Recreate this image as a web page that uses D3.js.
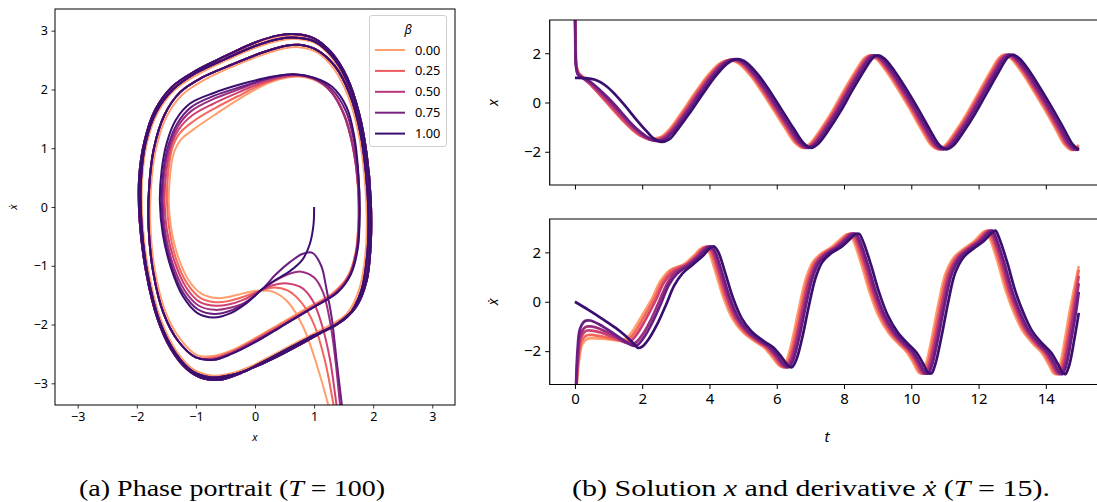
<!DOCTYPE html>
<html><head><meta charset="utf-8">
<script src="https://cdn.jsdelivr.net/npm/d3@7"></script>
<style>body{margin:0;background:#fff}svg{display:block}</style>
</head><body>
<svg id="c" width="1097" height="502"></svg>
<script>
// ---------------- data ----------------
const betas = [0, 0.2, 0.4, 0.6, 0.8, 1.0];
const legendBetas = [0, 0.25, 0.5, 0.75, 1.0];
const legendLabels = ["0.00", "0.25", "0.50", "0.75", "1.00"];
const phaseTicks = [-3, -2, -1, 0, 1, 2, 3];
const timeTicks = [0, 2, 4, 6, 8, 10, 12, 14];
const valueTicks = [-2, 0, 2];

// phase portrait: transient + first loop, per beta
const phaseStart0 = [[1.45,-4.3],[1.24,-3.37],[1.05,-2.7],[0.82,-2.05],[0.56,-1.62],[0.3,-1.44],[0.08,-1.42],[-0.2,-1.47],[-0.45,-1.53],[-0.65,-1.55],[-0.9,-1.48],[-1.12,-1.25],[-1.3,-0.85],[-1.42,-0.35],[-1.46,0.1],[-1.44,0.5],[-1.38,0.9],[-1.25,1.15],[-1.04,1.32],[-0.65,1.59],[-0.3,1.82],[0.1,2.05],[0.45,2.18],[0.75,2.22],[1.05,2.14],[1.32,1.92],[1.53,1.5],[1.67,0.95],[1.74,0.35],[1.75,-0.25],[1.7,-0.78],[1.57,-1.18],[1.33,-1.45],[0.95,-1.68],[0.45,-1.97],[-0.05,-2.26],[-0.4,-2.44],[-0.68,-2.53]];
const phaseStart1 = [[1.5,-4.3],[1.33,-3.37],[1.18,-2.6],[1.0,-2.0],[0.78,-1.62],[0.55,-1.42],[0.32,-1.37],[0.1,-1.42],[-0.2,-1.53],[-0.45,-1.6],[-0.66,-1.62],[-0.92,-1.55],[-1.15,-1.3],[-1.33,-0.9],[-1.45,-0.38],[-1.49,0.1],[-1.47,0.58],[-1.4,1.0],[-1.27,1.26],[-1.04,1.46],[-0.68,1.68],[-0.3,1.88],[0.1,2.08],[0.45,2.2],[0.73,2.23],[1.03,2.16],[1.3,1.95],[1.52,1.55],[1.66,1.0],[1.74,0.38],[1.75,-0.2],[1.71,-0.75],[1.58,-1.17],[1.35,-1.45],[0.97,-1.69],[0.47,-1.98],[-0.03,-2.27],[-0.4,-2.46],[-0.69,-2.56]];
const phaseStart2 = [[1.52,-4.3],[1.38,-3.37],[1.27,-2.6],[1.13,-2.0],[0.98,-1.6],[0.8,-1.38],[0.55,-1.3],[0.3,-1.33],[0.1,-1.42],[-0.2,-1.58],[-0.45,-1.66],[-0.67,-1.68],[-0.93,-1.62],[-1.17,-1.36],[-1.36,-0.93],[-1.49,-0.4],[-1.53,0.1],[-1.5,0.6],[-1.42,1.03],[-1.29,1.32],[-1.06,1.56],[-0.7,1.76],[-0.28,1.95],[0.1,2.11],[0.45,2.21],[0.7,2.24],[1.02,2.17],[1.29,1.96],[1.51,1.57],[1.66,1.03],[1.74,0.4],[1.76,-0.18],[1.72,-0.73],[1.6,-1.16],[1.37,-1.45],[0.98,-1.7],[0.48,-2.0],[-0.02,-2.28],[-0.4,-2.48],[-0.7,-2.58]];
const phaseStart3 = [[1.55,-4.3],[1.44,-3.37],[1.36,-2.6],[1.27,-1.95],[1.15,-1.45],[1.0,-1.2],[0.78,-1.1],[0.55,-1.15],[0.3,-1.28],[0.1,-1.42],[-0.18,-1.63],[-0.44,-1.72],[-0.68,-1.75],[-0.95,-1.68],[-1.19,-1.42],[-1.39,-0.97],[-1.52,-0.42],[-1.56,0.1],[-1.53,0.61],[-1.44,1.05],[-1.3,1.38],[-1.07,1.64],[-0.7,1.84],[-0.25,2.01],[0.15,2.16],[0.45,2.23],[0.68,2.25],[1.01,2.18],[1.28,1.97],[1.5,1.58],[1.65,1.05],[1.74,0.42],[1.76,-0.17],[1.72,-0.72],[1.61,-1.15],[1.38,-1.45],[0.99,-1.7],[0.49,-2.0],[-0.01,-2.29],[-0.4,-2.49],[-0.7,-2.59]];
const phaseStart4 = [[1.58,-4.3],[1.47,-3.37],[1.38,-2.6],[1.3,-1.9],[1.21,-1.4],[1.12,-1.0],[0.97,-0.78],[0.8,-0.8],[0.6,-0.93],[0.35,-1.15],[0.12,-1.4],[-0.15,-1.62],[-0.43,-1.77],[-0.69,-1.82],[-0.97,-1.74],[-1.21,-1.47],[-1.41,-1.0],[-1.54,-0.44],[-1.58,0.1],[-1.55,0.62],[-1.46,1.07],[-1.31,1.43],[-1.08,1.7],[-0.7,1.89],[-0.22,2.05],[0.2,2.18],[0.45,2.24],[0.66,2.26],[1.0,2.19],[1.29,2.01],[1.53,1.65],[1.67,1.15],[1.75,0.5],[1.77,-0.12],[1.73,-0.71],[1.61,-1.15],[1.39,-1.45],[1.0,-1.7],[0.5,-2.0],[0.0,-2.3],[-0.4,-2.5],[-0.7,-2.6]];
const phaseStart5 = [[1.0,0.0],[0.99,-0.3],[0.93,-0.62],[0.8,-0.9],[0.58,-1.1],[0.33,-1.25],[0.12,-1.4],[-0.15,-1.64],[-0.42,-1.81],[-0.7,-1.88],[-0.98,-1.8],[-1.22,-1.52],[-1.42,-1.04],[-1.56,-0.46],[-1.61,0.1],[-1.58,0.62],[-1.49,1.1],[-1.34,1.48],[-1.1,1.76],[-0.7,1.94],[-0.2,2.1],[0.3,2.22],[0.65,2.26],[1.0,2.2],[1.3,2.05],[1.55,1.7],[1.68,1.2],[1.75,0.55],[1.77,-0.1],[1.74,-0.7],[1.62,-1.15],[1.4,-1.45],[1.0,-1.7],[0.5,-2.0],[0.0,-2.3],[-0.4,-2.5],[-0.7,-2.6]];

// second loop, third loop and limit cycle (light = beta 0, dark = the rest)
const loop2Light = [[-0.98,-2.52],[-1.27,-2.24],[-1.52,-1.77],[-1.69,-1.1],[-1.77,-0.35],[-1.76,0.33],[-1.68,0.97],[-1.5,1.53],[-1.24,1.9],[-0.88,2.15],[-0.4,2.38],[0.1,2.58],[0.5,2.7],[0.75,2.72],[1.05,2.63],[1.33,2.36],[1.57,1.9],[1.75,1.26],[1.85,0.55],[1.89,-0.15],[1.87,-0.78],[1.77,-1.38],[1.55,-1.82],[1.1,-2.1],[0.5,-2.44],[0.0,-2.68],[-0.4,-2.83],[-0.7,-2.87]];
const loop3Light = [[-1.03,-2.77],[-1.33,-2.45],[-1.6,-1.9],[-1.8,-1.1],[-1.9,-0.3],[-1.91,0.45],[-1.83,1.08],[-1.65,1.6],[-1.37,1.98],[-0.98,2.25],[-0.5,2.49],[0.0,2.71],[0.4,2.83],[0.7,2.86],[1.0,2.8],[1.29,2.55],[1.53,2.14],[1.73,1.56],[1.86,0.87],[1.93,0.1],[1.93,-0.6],[1.86,-1.23],[1.68,-1.68],[1.38,-1.96],[0.9,-2.2],[0.3,-2.52],[-0.2,-2.77],[-0.6,-2.9],[-0.9,-2.87]];
const cycleLight = [[-1.13,-2.73],[-1.4,-2.4],[-1.63,-1.88],[-1.82,-1.1],[-1.93,-0.25],[-1.94,0.5],[-1.85,1.1],[-1.67,1.63],[-1.39,2.02],[-1.0,2.3],[-0.5,2.55],[0.0,2.78],[0.4,2.9],[0.7,2.92],[1.0,2.85],[1.29,2.6],[1.55,2.18],[1.74,1.59],[1.87,0.9],[1.94,0.1],[1.94,-0.6],[1.87,-1.24],[1.69,-1.69],[1.39,-1.97],[0.9,-2.22],[0.3,-2.54],[-0.2,-2.79],[-0.6,-2.92],[-0.9,-2.89]];
const loop2Dark = [[-1.0,-2.56],[-1.3,-2.28],[-1.55,-1.8],[-1.72,-1.12],[-1.8,-0.35],[-1.79,0.35],[-1.71,1.0],[-1.53,1.57],[-1.27,1.95],[-0.9,2.2],[-0.4,2.42],[0.1,2.62],[0.5,2.74],[0.75,2.76],[1.05,2.67],[1.35,2.4],[1.6,1.93],[1.78,1.28],[1.88,0.55],[1.92,-0.15],[1.9,-0.8],[1.8,-1.42],[1.57,-1.86],[1.1,-2.15],[0.5,-2.48],[0.0,-2.72],[-0.4,-2.86],[-0.72,-2.9]];
const loop3Dark = [[-1.05,-2.8],[-1.35,-2.48],[-1.62,-1.93],[-1.82,-1.13],[-1.92,-0.3],[-1.93,0.45],[-1.85,1.1],[-1.67,1.62],[-1.39,2.0],[-1.0,2.28],[-0.5,2.52],[0.0,2.74],[0.4,2.86],[0.7,2.88],[1.0,2.82],[1.3,2.57],[1.55,2.16],[1.75,1.58],[1.88,0.88],[1.95,0.1],[1.95,-0.6],[1.88,-1.25],[1.7,-1.7],[1.4,-1.98],[0.9,-2.23],[0.3,-2.55],[-0.2,-2.8],[-0.6,-2.93],[-0.9,-2.9]];
const cycleDark = [[-1.15,-2.76],[-1.42,-2.42],[-1.65,-1.9],[-1.84,-1.12],[-1.95,-0.25],[-1.96,0.5],[-1.87,1.12],[-1.69,1.65],[-1.41,2.04],[-1.0,2.32],[-0.5,2.57],[0.0,2.8],[0.4,2.92],[0.7,2.94],[1.0,2.87],[1.3,2.62],[1.56,2.2],[1.76,1.6],[1.89,0.9],[1.96,0.1],[1.96,-0.6],[1.89,-1.25],[1.71,-1.7],[1.4,-1.99],[0.9,-2.24],[0.3,-2.56],[-0.2,-2.81],[-0.6,-2.94],[-0.9,-2.91]];

// x(t), per beta
const xT0 = [[0,4.5],[0.025,2.2],[0.05,1.45],[0.12,1.2],[0.3,0.98],[0.6,0.55],[0.9,0.1],[1.2,-0.35],[1.5,-0.8],[1.8,-1.15],[2.1,-1.38],[2.34,-1.46],[2.55,-1.4],[2.8,-1.1],[3.15,-0.45],[3.55,0.35],[3.95,1.1],[4.3,1.58],[4.6,1.72],[4.85,1.6],[5.2,1.12],[5.55,0.45],[5.9,-0.3],[6.25,-1.05],[6.55,-1.65],[6.77,-1.84],[7.0,-1.65],[7.3,-1.1],[7.65,-0.35],[8.0,0.5],[8.35,1.3],[8.6,1.8],[8.75,1.9],[8.95,1.78],[9.25,1.28],[9.6,0.55],[9.95,-0.25],[10.3,-1.1],[10.6,-1.75],[10.8,-1.9],[11.0,-1.75],[11.3,-1.2],[11.65,-0.45],[12.0,0.4],[12.35,1.25],[12.6,1.8],[12.75,1.93],[12.95,1.8],[13.25,1.3],[13.6,0.55],[13.95,-0.25],[14.3,-1.1],[14.55,-1.7],[14.75,-1.92],[14.98,-1.72]];
const xT1 = [[0,4.5],[0.02,2.3],[0.045,1.48],[0.11,1.19],[0.25,1.0],[0.5,0.68],[0.8,0.22],[1.1,-0.25],[1.4,-0.7],[1.7,-1.1],[1.98,-1.37],[2.2,-1.47],[2.38,-1.49],[2.6,-1.4],[2.84,-1.1],[3.19,-0.45],[3.59,0.36],[3.99,1.1],[4.34,1.58],[4.64,1.73],[4.89,1.61],[5.24,1.12],[5.59,0.45],[5.94,-0.3],[6.29,-1.05],[6.59,-1.65],[6.81,-1.84],[7.04,-1.65],[7.34,-1.1],[7.69,-0.35],[8.04,0.5],[8.39,1.3],[8.64,1.8],[8.79,1.9],[8.99,1.78],[9.29,1.28],[9.64,0.55],[9.99,-0.25],[10.34,-1.1],[10.64,-1.75],[10.84,-1.9],[11.04,-1.75],[11.34,-1.2],[11.69,-0.45],[12.04,0.4],[12.39,1.25],[12.64,1.8],[12.79,1.93],[12.99,1.8],[13.29,1.3],[13.64,0.55],[13.99,-0.25],[14.34,-1.1],[14.59,-1.7],[14.79,-1.92],[14.98,-1.77]];
const xT2 = [[0,4.5],[0.02,2.3],[0.04,1.5],[0.1,1.18],[0.22,1.02],[0.45,0.75],[0.75,0.33],[1.05,-0.1],[1.35,-0.55],[1.65,-0.98],[1.95,-1.32],[2.2,-1.5],[2.4,-1.53],[2.62,-1.42],[2.88,-1.1],[3.23,-0.45],[3.63,0.35],[4.03,1.1],[4.38,1.6],[4.68,1.74],[4.93,1.62],[5.28,1.12],[5.63,0.45],[5.98,-0.3],[6.33,-1.05],[6.63,-1.65],[6.85,-1.84],[7.08,-1.65],[7.38,-1.1],[7.73,-0.35],[8.08,0.5],[8.43,1.3],[8.68,1.8],[8.83,1.91],[9.03,1.78],[9.33,1.28],[9.68,0.55],[10.03,-0.25],[10.38,-1.1],[10.68,-1.75],[10.88,-1.9],[11.08,-1.75],[11.38,-1.2],[11.73,-0.45],[12.08,0.4],[12.43,1.25],[12.68,1.8],[12.83,1.94],[13.03,1.8],[13.33,1.3],[13.68,0.55],[14.03,-0.25],[14.38,-1.1],[14.63,-1.7],[14.83,-1.92],[14.98,-1.82]];
const xT3 = [[0,4.5],[0.015,2.4],[0.035,1.5],[0.09,1.18],[0.2,1.03],[0.45,0.8],[0.75,0.42],[1.05,0.0],[1.35,-0.45],[1.65,-0.9],[1.95,-1.27],[2.2,-1.48],[2.42,-1.55],[2.65,-1.45],[2.92,-1.1],[3.27,-0.45],[3.67,0.35],[4.07,1.1],[4.42,1.6],[4.72,1.75],[4.97,1.62],[5.32,1.12],[5.67,0.45],[6.02,-0.3],[6.37,-1.05],[6.67,-1.65],[6.89,-1.84],[7.12,-1.65],[7.42,-1.1],[7.77,-0.35],[8.12,0.5],[8.47,1.3],[8.72,1.8],[8.87,1.91],[9.07,1.78],[9.37,1.28],[9.72,0.55],[10.07,-0.25],[10.42,-1.1],[10.72,-1.75],[10.92,-1.9],[11.12,-1.75],[11.42,-1.2],[11.77,-0.45],[12.12,0.4],[12.47,1.25],[12.72,1.8],[12.87,1.94],[13.07,1.8],[13.37,1.3],[13.72,0.55],[14.07,-0.25],[14.42,-1.1],[14.67,-1.7],[14.87,-1.92],[14.98,-1.86]];
const xT4 = [[0,4.5],[0.01,2.5],[0.03,1.5],[0.08,1.15],[0.2,1.02],[0.45,0.85],[0.75,0.5],[1.05,0.1],[1.35,-0.35],[1.65,-0.82],[1.95,-1.2],[2.2,-1.45],[2.45,-1.57],[2.7,-1.48],[2.97,-1.1],[3.32,-0.45],[3.72,0.35],[4.12,1.1],[4.47,1.6],[4.77,1.76],[5.02,1.62],[5.37,1.12],[5.72,0.45],[6.07,-0.3],[6.42,-1.05],[6.72,-1.65],[6.94,-1.84],[7.17,-1.65],[7.47,-1.1],[7.82,-0.35],[8.17,0.5],[8.52,1.3],[8.77,1.8],[8.92,1.91],[9.12,1.78],[9.42,1.28],[9.77,0.55],[10.12,-0.25],[10.47,-1.1],[10.77,-1.75],[10.97,-1.9],[11.17,-1.75],[11.47,-1.2],[11.82,-0.45],[12.17,0.4],[12.52,1.25],[12.77,1.8],[12.92,1.94],[13.12,1.8],[13.42,1.3],[13.77,0.55],[14.12,-0.25],[14.47,-1.1],[14.72,-1.7],[14.92,-1.92],[14.98,-1.9]];
const xT5 = [[0,1.0],[0.3,0.99],[0.6,0.92],[0.9,0.7],[1.2,0.32],[1.5,-0.15],[1.8,-0.65],[2.1,-1.12],[2.35,-1.47],[2.57,-1.6],[2.8,-1.5],[3.05,-1.1],[3.4,-0.45],[3.8,0.35],[4.2,1.1],[4.55,1.6],[4.85,1.76],[5.1,1.62],[5.45,1.12],[5.8,0.45],[6.15,-0.3],[6.5,-1.05],[6.8,-1.65],[7.02,-1.84],[7.25,-1.65],[7.55,-1.1],[7.9,-0.35],[8.25,0.5],[8.6,1.3],[8.85,1.8],[9.0,1.91],[9.2,1.78],[9.5,1.28],[9.85,0.55],[10.2,-0.25],[10.55,-1.1],[10.85,-1.75],[11.05,-1.9],[11.25,-1.75],[11.55,-1.2],[11.9,-0.45],[12.25,0.4],[12.6,1.25],[12.85,1.8],[13.0,1.94],[13.2,1.8],[13.5,1.3],[13.85,0.55],[14.2,-0.25],[14.55,-1.1],[14.8,-1.7],[14.98,-1.92]];

// xdot(t), per beta
const vT0 = [[0,-6],[0.05,-3.5],[0.12,-2.4],[0.22,-1.72],[0.38,-1.5],[0.6,-1.48],[0.9,-1.5],[1.2,-1.55],[1.4,-1.56],[1.55,-1.45],[1.75,-1.12],[2.0,-0.55],[2.3,0.15],[2.55,0.85],[2.85,1.3],[3.22,1.5],[3.52,1.85],[3.72,2.13],[3.84,2.21],[3.97,2.05],[4.17,1.25],[4.42,0.15],[4.67,-0.65],[4.97,-1.2],[5.32,-1.58],[5.62,-1.85],[5.87,-2.25],[6.07,-2.58],[6.17,-2.63],[6.3,-2.35],[6.47,-1.5],[6.67,-0.2],[6.87,0.95],[7.07,1.6],[7.32,1.95],[7.62,2.2],[7.87,2.5],[8.07,2.72],[8.17,2.73],[8.3,2.4],[8.52,1.5],[8.77,0.35],[9.02,-0.55],[9.32,-1.25],[9.62,-1.7],[9.87,-2.05],[10.07,-2.5],[10.22,-2.86],[10.32,-2.89],[10.44,-2.5],[10.62,-1.4],[10.82,0.0],[11.02,1.15],[11.27,1.8],[11.57,2.15],[11.87,2.45],[12.12,2.8],[12.22,2.87],[12.34,2.55],[12.57,1.6],[12.82,0.4],[13.07,-0.5],[13.32,-1.2],[13.62,-1.7],[13.87,-2.05],[14.07,-2.5],[14.22,-2.88],[14.3,-2.93],[14.42,-2.55],[14.57,-1.5],[14.72,-0.3],[14.98,1.45]];
const vT1 = [[0,-6],[0.045,-3.5],[0.11,-2.3],[0.2,-1.6],[0.35,-1.36],[0.55,-1.35],[0.85,-1.42],[1.15,-1.52],[1.4,-1.6],[1.5,-1.6],[1.62,-1.5],[1.8,-1.2],[2.05,-0.62],[2.35,0.12],[2.6,0.82],[2.9,1.3],[3.27,1.5],[3.57,1.85],[3.77,2.14],[3.89,2.22],[4.02,2.05],[4.22,1.25],[4.47,0.15],[4.72,-0.65],[5.02,-1.2],[5.37,-1.58],[5.67,-1.85],[5.92,-2.25],[6.12,-2.6],[6.22,-2.65],[6.35,-2.35],[6.52,-1.5],[6.72,-0.2],[6.92,0.95],[7.12,1.6],[7.37,1.95],[7.67,2.2],[7.92,2.5],[8.12,2.73],[8.22,2.74],[8.35,2.4],[8.57,1.5],[8.82,0.35],[9.07,-0.55],[9.37,-1.25],[9.67,-1.7],[9.92,-2.05],[10.12,-2.5],[10.27,-2.87],[10.37,-2.9],[10.49,-2.5],[10.67,-1.4],[10.87,0.0],[11.07,1.15],[11.32,1.8],[11.62,2.15],[11.92,2.45],[12.17,2.8],[12.27,2.88],[12.39,2.55],[12.62,1.6],[12.87,0.4],[13.12,-0.5],[13.37,-1.2],[13.67,-1.7],[13.92,-2.05],[14.12,-2.5],[14.27,-2.88],[14.35,-2.93],[14.47,-2.55],[14.62,-1.5],[14.77,-0.3],[14.98,1.3]];
const vT2 = [[0,-6],[0.04,-3.5],[0.1,-2.2],[0.18,-1.45],[0.33,-1.18],[0.5,-1.17],[0.8,-1.26],[1.1,-1.42],[1.35,-1.56],[1.52,-1.65],[1.65,-1.6],[1.85,-1.3],[2.1,-0.72],[2.4,0.05],[2.65,0.78],[2.95,1.25],[3.32,1.5],[3.62,1.85],[3.82,2.15],[3.94,2.23],[4.07,2.05],[4.27,1.25],[4.52,0.15],[4.77,-0.65],[5.07,-1.2],[5.42,-1.58],[5.72,-1.85],[5.97,-2.25],[6.17,-2.6],[6.27,-2.65],[6.4,-2.35],[6.57,-1.5],[6.77,-0.2],[6.97,0.95],[7.17,1.6],[7.42,1.95],[7.72,2.2],[7.97,2.5],[8.17,2.74],[8.27,2.75],[8.4,2.4],[8.62,1.5],[8.87,0.35],[9.12,-0.55],[9.42,-1.25],[9.72,-1.7],[9.97,-2.05],[10.17,-2.5],[10.32,-2.87],[10.42,-2.9],[10.54,-2.5],[10.72,-1.4],[10.92,0.0],[11.12,1.15],[11.37,1.8],[11.67,2.15],[11.97,2.45],[12.22,2.8],[12.32,2.88],[12.44,2.55],[12.67,1.6],[12.92,0.4],[13.17,-0.5],[13.42,-1.2],[13.72,-1.7],[13.97,-2.05],[14.17,-2.5],[14.32,-2.88],[14.4,-2.93],[14.52,-2.55],[14.67,-1.5],[14.82,-0.3],[14.98,1.05]];
const vT3 = [[0,-6],[0.035,-3.5],[0.09,-2.1],[0.17,-1.3],[0.32,-1.02],[0.47,-1.0],[0.75,-1.1],[1.05,-1.3],[1.3,-1.5],[1.52,-1.66],[1.66,-1.72],[1.8,-1.66],[2.0,-1.35],[2.25,-0.75],[2.5,0.0],[2.75,0.75],[3.0,1.2],[3.36,1.5],[3.66,1.85],[3.86,2.15],[3.98,2.23],[4.11,2.05],[4.31,1.25],[4.56,0.15],[4.81,-0.65],[5.11,-1.2],[5.46,-1.58],[5.76,-1.85],[6.01,-2.25],[6.21,-2.6],[6.31,-2.65],[6.44,-2.35],[6.61,-1.5],[6.81,-0.2],[7.01,0.95],[7.21,1.6],[7.46,1.95],[7.76,2.2],[8.01,2.5],[8.21,2.74],[8.31,2.75],[8.44,2.4],[8.66,1.5],[8.91,0.35],[9.16,-0.55],[9.46,-1.25],[9.76,-1.7],[10.01,-2.05],[10.21,-2.5],[10.36,-2.87],[10.46,-2.9],[10.58,-2.5],[10.76,-1.4],[10.96,0.0],[11.16,1.15],[11.41,1.8],[11.71,2.15],[12.01,2.45],[12.26,2.8],[12.36,2.88],[12.48,2.55],[12.71,1.6],[12.96,0.4],[13.21,-0.5],[13.46,-1.2],[13.76,-1.7],[14.01,-2.05],[14.21,-2.5],[14.36,-2.88],[14.44,-2.93],[14.56,-2.55],[14.71,-1.5],[14.86,-0.3],[14.98,0.75]];
const vT4 = [[0,-6],[0.03,-3.5],[0.08,-1.9],[0.15,-1.1],[0.3,-0.78],[0.45,-0.76],[0.7,-0.9],[1.0,-1.15],[1.3,-1.42],[1.55,-1.65],[1.72,-1.78],[1.85,-1.76],[2.05,-1.45],[2.3,-0.85],[2.55,-0.1],[2.8,0.7],[3.05,1.15],[3.41,1.5],[3.71,1.85],[3.91,2.15],[4.03,2.24],[4.16,2.05],[4.36,1.25],[4.61,0.15],[4.86,-0.65],[5.16,-1.2],[5.51,-1.58],[5.81,-1.85],[6.06,-2.25],[6.26,-2.6],[6.36,-2.65],[6.49,-2.35],[6.66,-1.5],[6.86,-0.2],[7.06,0.95],[7.26,1.6],[7.51,1.95],[7.81,2.2],[8.06,2.5],[8.26,2.74],[8.36,2.75],[8.49,2.4],[8.71,1.5],[8.96,0.35],[9.21,-0.55],[9.51,-1.25],[9.81,-1.7],[10.06,-2.05],[10.26,-2.5],[10.41,-2.87],[10.51,-2.9],[10.63,-2.5],[10.81,-1.4],[11.01,0.0],[11.21,1.15],[11.46,1.8],[11.76,2.15],[12.06,2.45],[12.31,2.8],[12.41,2.88],[12.53,2.55],[12.76,1.6],[13.01,0.4],[13.26,-0.5],[13.51,-1.2],[13.81,-1.7],[14.06,-2.05],[14.26,-2.5],[14.41,-2.88],[14.49,-2.93],[14.61,-2.55],[14.76,-1.5],[14.91,-0.3],[14.98,0.4]];
const vT5 = [[0,0],[0.4,-0.33],[0.8,-0.68],[1.2,-1.05],[1.5,-1.38],[1.75,-1.7],[1.88,-1.87],[2.0,-1.82],[2.2,-1.5],[2.45,-0.9],[2.7,-0.15],[2.95,0.65],[3.2,1.15],[3.5,1.5],[3.8,1.85],[4.0,2.15],[4.12,2.24],[4.25,2.05],[4.45,1.25],[4.7,0.15],[4.95,-0.65],[5.25,-1.2],[5.6,-1.58],[5.9,-1.85],[6.15,-2.25],[6.35,-2.6],[6.45,-2.65],[6.58,-2.35],[6.75,-1.5],[6.95,-0.2],[7.15,0.95],[7.35,1.6],[7.6,1.95],[7.9,2.2],[8.15,2.5],[8.35,2.74],[8.45,2.75],[8.58,2.4],[8.8,1.5],[9.05,0.35],[9.3,-0.55],[9.6,-1.25],[9.9,-1.7],[10.15,-2.05],[10.35,-2.5],[10.5,-2.87],[10.6,-2.9],[10.72,-2.5],[10.9,-1.4],[11.1,0.0],[11.3,1.15],[11.55,1.8],[11.85,2.15],[12.15,2.45],[12.4,2.8],[12.5,2.88],[12.62,2.55],[12.85,1.6],[13.1,0.4],[13.35,-0.5],[13.6,-1.2],[13.9,-1.7],[14.15,-2.05],[14.35,-2.5],[14.5,-2.88],[14.58,-2.93],[14.7,-2.55],[14.85,-1.5],[14.98,-0.45]];

// ---------------- assembly ----------------
const phaseStarts = [phaseStart0, phaseStart1, phaseStart2, phaseStart3, phaseStart4, phaseStart5];
const xSeries = [xT0, xT1, xT2, xT3, xT4, xT5];
const vSeries = [vT0, vT1, vT2, vT3, vT4, vT5];
const phaseSeries = phaseStarts.map((s, i) => {
  const light = i === 0;
  const l2 = light ? loop2Light : loop2Dark, l3 = light ? loop3Light : loop3Dark, lc = light ? cycleLight : cycleDark;
  return s.concat(l2, l3, lc, lc, [lc[0]]);
});

const color = d3.scaleSequential(b => d3.interpolateMagma(0.8 - 0.6 * b)).domain([0, 1]);
const svg = d3.select("#c");
const FONT = "'Noto Sans', 'DejaVu Sans', sans-serif";
const curve = d3.curveCatmullRom.alpha(0.5);
const minus = d => d3.format("")(d).replace("-", "\u2212");

function addClip(id, x0, y0, w, h) {
  svg.append("clipPath").attr("id", id).append("rect").attr("x", x0).attr("y", y0).attr("width", w).attr("height", h);
}

// ---------------- panel (a): phase portrait ----------------
{
  const L = 55, R = 455, T = 9, B = 405;
  const xs = d3.scaleLinear().domain([-3.384, 3.384]).range([L, R]);
  const ys = d3.scaleLinear().domain([-3.369, 3.369]).range([B, T]);
  addClip("clipA", L, T, R - L, B - T);
  const g = svg.append("g").attr("clip-path", "url(#clipA)");
  const line = d3.line().x(d => xs(d[0])).y(d => ys(d[1])).curve(curve);
  phaseSeries.forEach((s, i) => {
    g.append("path").attr("d", line(s)).attr("fill", "none")
      .attr("stroke", color(betas[i])).attr("stroke-width", 2).attr("stroke-linejoin", "round");
  });
  const ax = svg.append("g").attr("transform", `translate(0,${B})`)
    .call(d3.axisBottom(xs).tickValues(phaseTicks).tickSize(3.5).tickPadding(3.5).tickFormat(minus));
  const ay = svg.append("g").attr("transform", `translate(${L},0)`)
    .call(d3.axisLeft(ys).tickValues(phaseTicks).tickSize(3.5).tickPadding(3.5).tickFormat(minus));
  [ax, ay].forEach(a => {
    a.select(".domain").remove();
    a.selectAll("text").attr("font-family", FONT).attr("font-size", 12.5).attr("fill", "#000");
    a.selectAll("line").attr("stroke", "#000").attr("stroke-width", 0.8);
  });
  svg.append("rect").attr("x", L).attr("y", T).attr("width", R - L).attr("height", B - T)
    .attr("fill", "none").attr("stroke", "#000").attr("stroke-width", 1);
  svg.append("text").attr("x", (L + R) / 2).attr("y", 441).attr("text-anchor", "middle")
    .attr("font-family", FONT).attr("font-style", "italic").attr("font-size", 11).text("x");
  svg.append("text").attr("transform", `translate(17,${(T + B) / 2}) rotate(-90)`).attr("text-anchor", "middle")
    .attr("font-family", FONT).attr("font-style", "italic").attr("font-size", 11).text("\u1E8B");

  // legend
  const lg = svg.append("g");
  lg.append("rect").attr("x", 369.5).attr("y", 15.5).attr("width", 77).attr("height", 131).attr("rx", 2.5)
    .attr("fill", "#fff").attr("fill-opacity", 0.8).attr("stroke", "#d0d0d0").attr("stroke-width", 1);
  lg.append("text").attr("x", 408).attr("y", 34).attr("text-anchor", "middle")
    .attr("font-family", FONT).attr("font-style", "italic").attr("font-size", 12.5).text("\u03B2");
  legendBetas.forEach((b, i) => {
    const y = 50 + i * 20.9;
    lg.append("line").attr("x1", 375).attr("x2", 405).attr("y1", y).attr("y2", y)
      .attr("stroke", color(b)).attr("stroke-width", 2);
    lg.append("text").attr("x", 415).attr("y", y + 4.5).attr("font-family", FONT).attr("font-size", 12.8)
      .attr("fill", "#000").text(legendLabels[i]);
  });
}

// ---------------- panel (b): time series ----------------
function timePanel(T, B, series, labelText, showXLabels, clipId) {
  const L = 549.7, R = 1104.7;
  const xs = d3.scaleLinear().domain([-0.75, 15.75]).range([L, R]);
  const ys = d3.scaleLinear().domain([-3.35, 3.35]).range([B, T]);
  addClip(clipId, L, T, R - L, B - T);
  const g = svg.append("g").attr("clip-path", `url(#${clipId})`);
  const line = d3.line().x(d => xs(d[0])).y(d => ys(d[1])).curve(curve);
  series.forEach((s, i) => {
    g.append("path").attr("d", line(s)).attr("fill", "none")
      .attr("stroke", color(betas[i])).attr("stroke-width", 2.7).attr("stroke-linejoin", "round");
  });
  const ax = svg.append("g").attr("transform", `translate(0,${B})`)
    .call(d3.axisBottom(xs).tickValues(timeTicks).tickSize(4.5).tickPadding(4).tickFormat(showXLabels ? d3.format("") : () => ""));
  const ay = svg.append("g").attr("transform", `translate(${L},0)`)
    .call(d3.axisLeft(ys).tickValues(valueTicks).tickSize(4.5).tickPadding(4).tickFormat(minus));
  [ax, ay].forEach(a => {
    a.select(".domain").remove();
    a.selectAll("text").attr("font-family", FONT).attr("font-size", 15).attr("fill", "#000");
    a.selectAll("line").attr("stroke", "#000").attr("stroke-width", 1);
  });
  svg.append("path").attr("d", `M${R},${T}H${L}V${B}H${R}`).attr("fill", "none").attr("stroke", "#000").attr("stroke-width", 1.2);
  svg.append("text").attr("transform", `translate(498,${(T + B) / 2}) rotate(-90)`).attr("text-anchor", "middle")
    .attr("font-family", FONT).attr("font-style", "italic").attr("font-size", 14).text(labelText);
  return xs;
}
timePanel(20, 185, xSeries, "x", false, "clipB1");
timePanel(219, 384.5, vSeries, "\u1E8B", true, "clipB2");
svg.append("text").attr("x", 827).attr("y", 442).attr("text-anchor", "middle")
  .attr("font-family", FONT).attr("font-style", "italic").attr("font-size", 15).text("t");

// ---------------- captions ----------------
const SERIF = "'Liberation Serif', 'DejaVu Serif', serif";
const capA = svg.append("text").attr("x", 232).attr("y", 496).attr("text-anchor", "middle")
  .attr("font-family", SERIF).attr("font-size", 23).attr("textLength", 306).attr("lengthAdjust", "spacingAndGlyphs");
capA.append("tspan").text("(a) Phase portrait (");
capA.append("tspan").attr("font-style", "italic").text("T");
capA.append("tspan").text(" = 100)");
const capB = svg.append("text").attr("x", 811).attr("y", 496).attr("text-anchor", "middle")
  .attr("font-family", SERIF).attr("font-size", 23).attr("textLength", 478).attr("lengthAdjust", "spacingAndGlyphs");
capB.append("tspan").text("(b) Solution ");
capB.append("tspan").attr("font-style", "italic").text("x");
capB.append("tspan").text(" and derivative ");
capB.append("tspan").attr("font-style", "italic").text("\u1E8B");
capB.append("tspan").text(" (");
capB.append("tspan").attr("font-style", "italic").text("T");
capB.append("tspan").text(" = 15).");
</script>
</body></html>
